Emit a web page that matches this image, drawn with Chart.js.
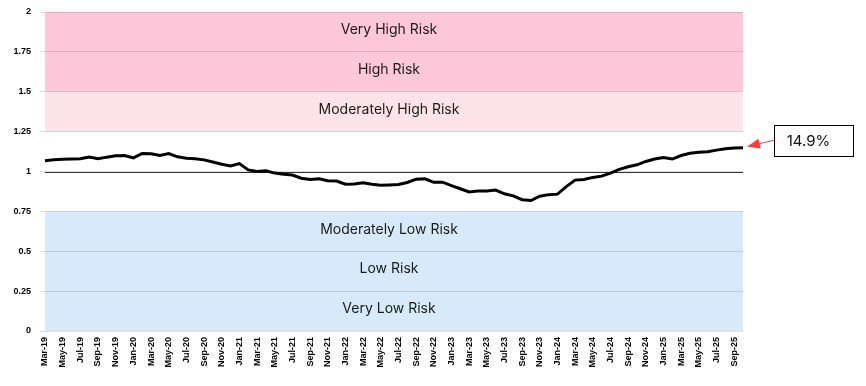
<!DOCTYPE html>
<html>
<head>
<meta charset="utf-8">
<script src="https://cdn.jsdelivr.net/npm/chart.js@4.4.1/dist/chart.umd.min.js"></script>
<style>
  html, body { margin: 0; padding: 0; background: #fff; }
  #wrap { width: 866px; height: 386px; }
</style>
</head>
<body>
<div id="wrap"><canvas id="myChart"></canvas></div>
<script>
var months = [
  "Mar-19","Apr-19","May-19","Jun-19","Jul-19","Aug-19","Sep-19","Oct-19","Nov-19","Dec-19",
  "Jan-20","Feb-20","Mar-20","Apr-20","May-20","Jun-20","Jul-20","Aug-20","Sep-20","Oct-20","Nov-20","Dec-20",
  "Jan-21","Feb-21","Mar-21","Apr-21","May-21","Jun-21","Jul-21","Aug-21","Sep-21","Oct-21","Nov-21","Dec-21",
  "Jan-22","Feb-22","Mar-22","Apr-22","May-22","Jun-22","Jul-22","Aug-22","Sep-22","Oct-22","Nov-22","Dec-22",
  "Jan-23","Feb-23","Mar-23","Apr-23","May-23","Jun-23","Jul-23","Aug-23","Sep-23","Oct-23","Nov-23","Dec-23",
  "Jan-24","Feb-24","Mar-24","Apr-24","May-24","Jun-24","Jul-24","Aug-24","Sep-24","Oct-24","Nov-24","Dec-24",
  "Jan-25","Feb-25","Mar-25","Apr-25","May-25","Jun-25","Jul-25","Aug-25","Sep-25","Oct-25"
];

var riskIndex = [
  1.068, 1.073, 1.077, 1.078, 1.080, 1.090, 1.080, 1.090, 1.098, 1.100,
  1.085, 1.113, 1.111, 1.101, 1.112, 1.092, 1.083, 1.080, 1.073, 1.060, 1.046, 1.035,
  1.050, 1.010, 1.000, 1.005, 0.990, 0.983, 0.978, 0.958, 0.950, 0.954, 0.942, 0.940,
  0.920, 0.922, 0.929, 0.920, 0.914, 0.916, 0.918, 0.931, 0.952, 0.954, 0.932, 0.933,
  0.912, 0.892, 0.872, 0.877, 0.878, 0.884, 0.860, 0.847, 0.823, 0.818, 0.845, 0.855,
  0.858, 0.905, 0.946, 0.950, 0.963, 0.971, 0.990, 1.013, 1.030, 1.042, 1.063, 1.078,
  1.088, 1.078, 1.100, 1.114, 1.121, 1.124, 1.134, 1.143, 1.148, 1.149
];

var yTicks = [0, 0.25, 0.5, 0.75, 1, 1.25, 1.5, 1.75, 2];
var bandLabels = ["Very High Risk", "High Risk", "Moderately High Risk", "Moderately Low Risk", "Low Risk", "Very Low Risk"];
var bandCenters = [1.875, 1.625, 1.375, 0.625, 0.375, 0.125];
var calloutText = "14.9%";

var riskBands = {
  id: 'riskBands',
  beforeDraw: function(chart) {
    var ctx = chart.ctx, a = chart.chartArea, y = chart.scales.y;
    function band(lo, hi, col) {
      var top = y.getPixelForValue(hi), bot = y.getPixelForValue(lo);
      ctx.fillStyle = col;
      ctx.fillRect(a.left, top, a.right - a.left, bot - top);
    }
    ctx.save();
    band(1.5, 2, '#ffc8da');
    band(1.25, 1.5, '#ffe3eb');
    band(0, 0.75, '#d7eafb');
    ctx.restore();
  },
  beforeDatasetsDraw: function(chart) {
    var ctx = chart.ctx, a = chart.chartArea, y = chart.scales.y;
    ctx.save();
    // reference line at 1
    var y1 = Math.round(y.getPixelForValue(1)) + 0.5;
    ctx.strokeStyle = '#333';
    ctx.lineWidth = 1.2;
    ctx.beginPath();
    ctx.moveTo(a.left, y1);
    ctx.lineTo(a.right, y1);
    ctx.stroke();
    // band names
    ctx.fillStyle = '#1a1a1a';
    ctx.font = '14px Inter, "Liberation Sans", Arial, sans-serif';
    ctx.textAlign = 'center';
    ctx.textBaseline = 'middle';
    var cx = (a.left + a.right) / 2 - 5;
    for (var i = 0; i < bandLabels.length; i++) {
      ctx.fillText(bandLabels[i], cx, y.getPixelForValue(bandCenters[i]) - 2);
    }
    ctx.restore();
  },
  afterDraw: function(chart) {
    var ctx = chart.ctx;
    var meta = chart.getDatasetMeta(0);
    var pt = meta.data[meta.data.length - 1];
    var bx = pt.x + 31, by = pt.y - 23, bw = 79, bh = 31;
    ctx.save();
    ctx.fillStyle = '#fff';
    ctx.fillRect(bx, by, bw, bh);
    ctx.strokeStyle = '#000';
    ctx.lineWidth = 1;
    ctx.strokeRect(Math.round(bx) + 0.5, Math.round(by) + 0.5, bw, bh);
    ctx.fillStyle = '#111';
    ctx.font = '15px Inter, "Liberation Sans", Arial, sans-serif';
    ctx.textAlign = 'center';
    ctx.textBaseline = 'middle';
    ctx.fillText(calloutText, bx + bw / 2 - 5, by + bh / 2 + 1);
    // arrow
    var sx = bx, sy = by + bh / 2;
    var tx = pt.x + 4, ty = pt.y - 1;
    var ang = Math.atan2(ty - sy, tx - sx);
    ctx.strokeStyle = '#ff3b3b';
    ctx.fillStyle = '#ff3b3b';
    ctx.lineWidth = 1;
    ctx.beginPath();
    ctx.moveTo(sx, sy);
    ctx.lineTo(tx - 10 * Math.cos(ang), ty - 10 * Math.sin(ang));
    ctx.stroke();
    ctx.beginPath();
    ctx.moveTo(tx, ty);
    ctx.lineTo(tx - 13 * Math.cos(ang) + 5 * Math.sin(ang), ty - 13 * Math.sin(ang) - 5 * Math.cos(ang));
    ctx.lineTo(tx - 13 * Math.cos(ang) - 5 * Math.sin(ang), ty - 13 * Math.sin(ang) + 5 * Math.cos(ang));
    ctx.closePath();
    ctx.fill();
    ctx.restore();
  }
};

var tickFont = { family: '"Liberation Sans", Arial, sans-serif', size: 9, weight: 'bold' };

var ctx = document.getElementById('myChart');
var myChart = new Chart(ctx, {
  type: 'line',
  data: {
    labels: months,
    datasets: [{
      label: 'Risk Index',
      data: riskIndex,
      borderColor: '#000',
      borderWidth: 3,
      pointRadius: 0,
      tension: 0,
      fill: false
    }]
  },
  options: {
    responsive: true,
    maintainAspectRatio: false,
    animation: false,
    layout: { padding: { top: 12, right: 123, left: 0, bottom: 0 } },
    plugins: {
      legend: { display: false },
      tooltip: { enabled: false }
    },
    scales: {
      x: {
        offset: false,
        grid: { display: false, tickLength: 6 },
        border: { display: false },
        afterFit: function(scale) {
          scale.height = 55;
          scale.paddingLeft = 0;
          scale.paddingRight = 0;
        },
        ticks: {
          autoSkip: false,
          maxRotation: 90,
          minRotation: 90,
          padding: 0,
          color: '#000',
          font: tickFont,
          callback: function(val, i) { return i % 2 === 0 ? months[i] : ''; }
        }
      },
      y: {
        min: 0,
        max: 2,
        afterBuildTicks: function(scale) {
          scale.ticks = yTicks.map(function(v) { return { value: v }; });
        },
        afterFit: function(scale) {
          scale.width = 45;
          scale.paddingTop = 0;
          scale.paddingBottom = 0;
        },
        grid: { color: 'rgba(0,0,0,0.13)', tickLength: 5, lineWidth: 1 },
        border: { display: false },
        ticks: {
          color: '#000',
          padding: 9,
          font: tickFont,
          callback: function(v) { return String(v); }
        }
      }
    }
  },
  plugins: [riskBands]
});
</script>
</body>
</html>
